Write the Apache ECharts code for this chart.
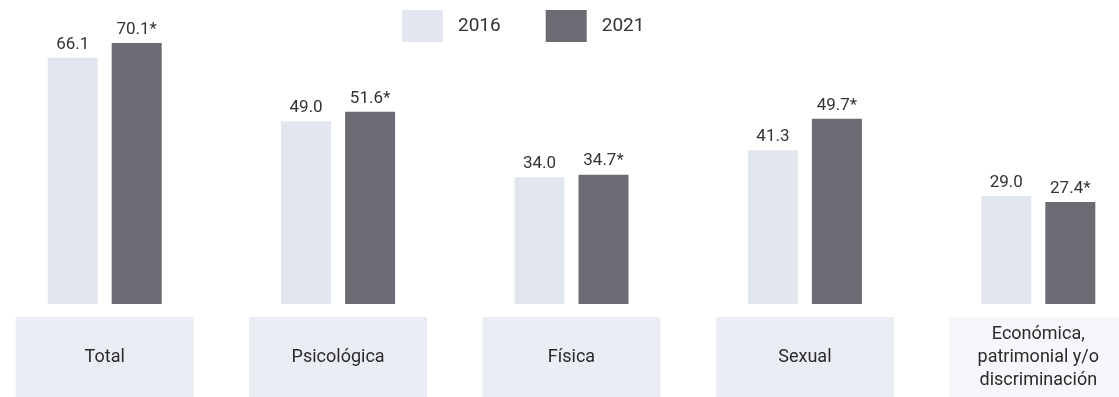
<!DOCTYPE html>
<html>
<head>
<meta charset="utf-8">
<script src="https://cdn.jsdelivr.net/npm/echarts@6/dist/echarts.min.js"></script>
<style>
  html, body { margin: 0; padding: 0; background: #ffffff; overflow: hidden; }
  body { position: relative; width: 1119px; height: 397px; }
  /* the plot is a little wider than the page: the outer bands bleed past both edges */
  #chart { position: absolute; left: -12px; top: 0; width: 1167px; height: 397px; }
</style>
</head>
<body>
<div id="chart"></div>
<script>
// Tipos de violencia: prevalencia (%) por año
const categories = ['Total', 'Psicológica', 'Física', 'Sexual', 'Económica,\npatrimonial y/o\ndiscriminación'];
const years = ['2016', '2021'];
const values2016 = [66.1, 49.0, 34.0, 41.3, 29.0];
const values2021 = [70.1, 51.6, 34.7, 49.7, 27.4];

const chart = echarts.init(document.getElementById('chart'), null, { renderer: 'canvas' });

const font = 'Roboto, "Noto Sans", sans-serif';
const labelBoxHeight = 80;
const labelLineHeight = 23;

// each category name sits in a shaded box of equal height
const categoryItems = categories.map(function (c) {
  const lines = c.split('\n').length;
  const pad = (labelBoxHeight - lines * labelLineHeight) / 2;
  return {
    value: c,
    textStyle: {
      padding: [pad, 0, pad, 0],
      backgroundColor: lines > 1 ? '#f6f7fa' : '#eaedf3'
    }
  };
});

chart.setOption({
  animation: false,
  backgroundColor: '#ffffff',
  legend: {
    top: 5,
    left: 409,
    itemWidth: 41,
    itemHeight: 32,
    itemGap: 45,
    icon: 'rect',
    textStyle: { fontFamily: font, fontSize: 19, color: '#333333', padding: [0, 0, 0, 10] },
    data: years
  },
  grid: { left: 0, right: 0, top: 6, bottom: 93, containLabel: false },
  xAxis: {
    type: 'category',
    data: categoryItems,
    axisLine: { show: false },
    axisTick: { show: false },
    axisLabel: {
      margin: 13,
      interval: 0,
      width: 178,
      lineHeight: labelLineHeight,
      fontFamily: font,
      fontSize: 18,
      color: '#2a2a2a',
      align: 'center'
    }
  },
  yAxis: {
    type: 'value',
    min: 0,
    max: 80,
    show: false,
    splitLine: { show: false }
  },
  series: [
    {
      name: years[0],
      type: 'bar',
      data: values2016,
      barWidth: 50,
      barGap: '28%',
      itemStyle: { color: '#e2e6ee' },
      label: {
        show: true,
        position: 'top',
        distance: 5,
        fontFamily: font,
        fontSize: 17,
        color: '#333333',
        formatter: function (p) { return p.value.toFixed(1); }
      }
    },
    {
      name: years[1],
      type: 'bar',
      data: values2021,
      barWidth: 50,
      itemStyle: { color: '#6b6b74' },
      label: {
        show: true,
        position: 'top',
        distance: 5,
        fontFamily: font,
        fontSize: 17,
        color: '#333333',
        formatter: function (p) { return p.value.toFixed(1) + '*'; }
      }
    }
  ]
});
</script>
</body>
</html>
